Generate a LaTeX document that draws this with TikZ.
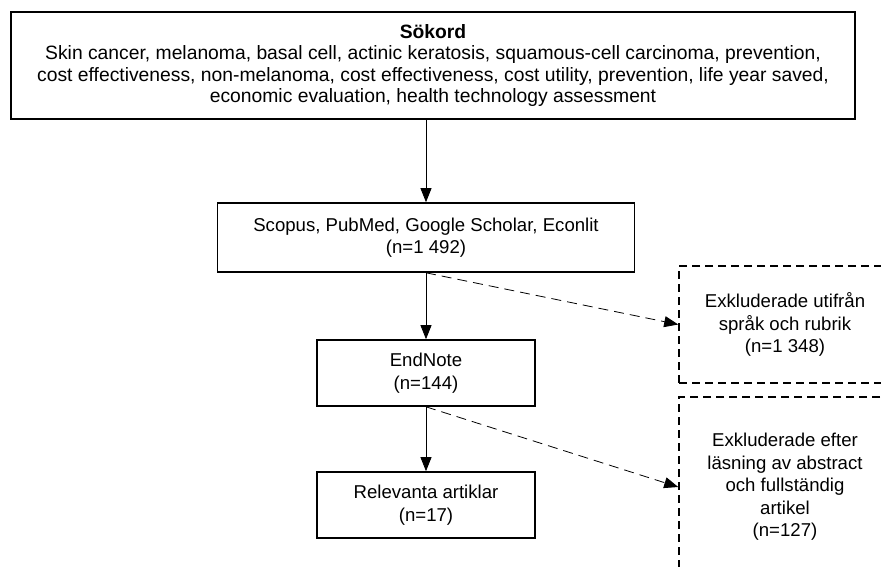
\documentclass[tikz,border=0pt]{standalone}
\usepackage{fontspec}
\setmainfont{Liberation Sans}
\usetikzlibrary{arrows.meta, positioning}

\begin{document}
\begin{tikzpicture}[x=1pt, y=-1pt,
    box/.style={rectangle, draw, line width=1.6pt, align=center, inner sep=0pt, font=\fontsize{18.6}{22.5}\selectfont},
    exbox/.style={box, dash pattern=on 8pt off 5pt},
    arrow/.style={line width=0.8pt, -{Triangle[length=14pt,width=11pt]}},
    exarrow/.style={arrow, dash pattern=on 10pt off 6pt}]

    \useasboundingbox (0,0) rectangle (881,567);
    \clip (0,0) rectangle (881,567);

    % Search
    \node [box, minimum width=844pt, minimum height=107pt, font=\fontsize{19.3}{21.5}\selectfont] (sokord) at (433,65.5)
        {\textbf{Sökord}\\
         Skin cancer, melanoma, basal cell, actinic keratosis, squamous-cell carcinoma, prevention,\\
         cost effectiveness, non-melanoma, cost effectiveness, cost utility, prevention, life year saved,\\
         economic evaluation, health technology assessment};

    % Selection
    \node [box, minimum width=417pt, minimum height=69pt] (databases) at (426,237.5)
        {Scopus, PubMed, Google Scholar, Econlit\\(n=1 492)};
    \node [box, minimum width=218pt, minimum height=66pt] (endnote) at (426,373)
        {EndNote\\(n=144)};
    \node [box, minimum width=218pt, minimum height=66pt] (relevant) at (426,505)
        {Relevanta artiklar\\(n=17)};

    % Excluded
    \node [exbox, minimum width=212pt, minimum height=117pt] (excl1) at (785,324.5)
        {Exkluderade utifrån\\språk och rubrik\\(n=1 348)};
    \node [exbox, minimum width=212pt, minimum height=180pt] (excl2) at (785,487)
        {Exkluderade efter\\läsning av abstract\\och fullständig\\artikel\\(n=127)};

    % Arrows
    \draw [arrow] (sokord.south -| databases.north) -- (databases.north);
    \draw [arrow] (databases) -- (endnote);
    \draw [arrow] (endnote) -- (relevant);
    \draw [exarrow] (databases.south) -- (excl1.west);
    \draw [exarrow] (endnote.south) -- (excl2.west);
\end{tikzpicture}
\end{document}
